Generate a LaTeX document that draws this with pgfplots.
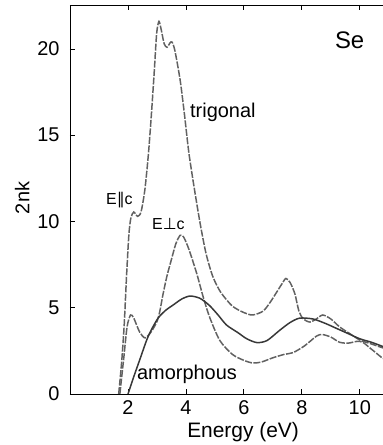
\documentclass[border=0pt]{standalone}
\usepackage{pgfplots}
\pgfplotsset{compat=1.18}
\usepackage{fontspec}
\setmainfont{Liberation Sans}
\newfontfamily\symfont{DejaVu Sans}
\begin{document}
\begin{tikzpicture}
\begin{axis}[
  name=ax,
  scale only axis,
  width=313bp, height=389bp,
  xmin=0, xmax=10.8, ymin=0, ymax=22.55,
  axis x line*=box, axis y line*=left,
  xtick={2,4,6,8,10}, ytick={0,5,10,15,20},
  tick align=inside,
  major tick length=5bp,
  tick style={black, line width=0.8pt},
  axis line style={line width=0.9pt},
  x tick label style={font=\fontsize{20}{20}\selectfont, yshift=-3bp},
  y tick label style={font=\fontsize{20}{20}\selectfont, xshift=-7bp},
  /pgf/number format/assume math mode=true,
  xlabel={Energy (eV)}, ylabel={2nk},
  xlabel style={font=\fontsize{21}{21}\selectfont, at={(axis description cs:0.553,0)}, anchor=base, yshift=-43bp},
  ylabel style={font=\fontsize{20}{20}\selectfont, at={(axis description cs:-0.153,0.504)}, anchor=center},
  clip=true,
]
% trigonal E||c
\addplot[smooth, tension=0.45, color=black!62, line width=1.5pt, dash pattern=on 7bp off 1.5bp] coordinates {
(1.68,0) (1.78,1.8) (1.87,4.0) (1.95,6.8) (2.03,9.2) (2.1,10.2) (2.2,10.55) (2.33,10.3) (2.45,10.55)
(2.58,11.8) (2.7,13.8) (2.8,16.0) (2.9,18.5) (2.99,20.9) (3.07,21.6) (3.15,21.1) (3.25,20.3) (3.35,20.1)
(3.45,20.35) (3.52,20.4) (3.62,19.9) (3.8,18.2) (3.95,16.2) (4.1,14.0) (4.3,11.8) (4.5,9.8) (4.7,8.1)
(4.93,6.8) (5.2,5.9) (5.6,5.1) (6.0,4.72) (6.3,4.58) (6.66,4.8) (6.9,5.3) (7.13,5.9) (7.3,6.35) (7.45,6.7)
(7.6,6.45) (7.76,5.8) (7.9,4.8) (8.05,4.35) (8.28,4.17) (8.5,4.35) (8.72,4.58) (9.0,4.35) (9.31,3.88)
(9.7,3.45) (10.0,3.13) (10.4,2.9) (10.8,2.67)
};
% trigonal E perp c
\addplot[smooth, tension=0.45, color=black!62, line width=1.5pt, dash pattern=on 7bp off 1.5bp] coordinates {
(1.72,0) (1.85,2.0) (1.97,3.9) (2.09,4.58) (2.2,4.4) (2.4,3.6) (2.59,3.25) (2.8,3.6) (3.0,4.2) (3.1,4.8)
(3.2,5.7) (3.34,6.8) (3.5,7.8) (3.65,8.7) (3.8,9.2) (3.92,9.1) (4.1,8.4) (4.37,7.0) (4.6,5.6) (4.83,4.4)
(5.17,3.1) (5.6,2.3) (6.0,1.95) (6.3,1.8) (6.6,1.85) (7.0,2.1) (7.4,2.3) (7.7,2.4) (8.1,2.8) (8.5,3.35)
(8.7,3.45) (9.0,3.3) (9.3,3.0) (9.6,2.95) (9.9,3.05) (10.1,3.0) (10.4,2.6) (10.8,2.05)
};
% amorphous
\addplot[smooth, tension=0.45, color=black!78, line width=1.5pt] coordinates {
(2.0,0) (2.2,1.0) (2.41,2.0) (2.64,3.1) (2.8,3.7) (3.04,4.4) (3.3,4.85) (3.56,5.16) (3.85,5.5)
(4.14,5.68) (4.48,5.55) (4.8,5.15) (5.1,4.6) (5.4,4.0) (5.8,3.55) (6.1,3.2) (6.45,2.98) (6.8,3.1)
(7.24,3.7) (7.6,4.15) (7.93,4.4) (8.38,4.35) (8.8,4.1) (9.2,3.8) (9.6,3.5) (10.0,3.2) (10.4,3.0) (10.8,2.75)
};
\node[anchor=center, font=\fontsize{24}{24}\selectfont] at (axis cs:9.65,20.5) {Se};
\node[anchor=west, inner sep=0pt, font=\fontsize{20}{20}\selectfont] at (axis cs:4.14,16.35) {trigonal};
\node[anchor=west, inner sep=0pt, font=\fontsize{16}{16}\selectfont] at (axis cs:1.24,11.25) {E\raisebox{0.05ex}{\symfont\char"2225}c};
\node[anchor=west, inner sep=0pt, font=\fontsize{16}{16}\selectfont] at (axis cs:2.83,9.85) {E{\symfont\char"22A5}c};
\node[anchor=west, inner sep=0pt, font=\fontsize{20}{20}\selectfont] at (axis cs:2.31,1.16) {amorphous};
\end{axis}
\pgfresetboundingbox
\path[use as bounding box] ([shift={(-70bp,-51bp)}]ax.south west) rectangle ([shift={(0bp,5bp)}]ax.north east);
\end{tikzpicture}
\end{document}
